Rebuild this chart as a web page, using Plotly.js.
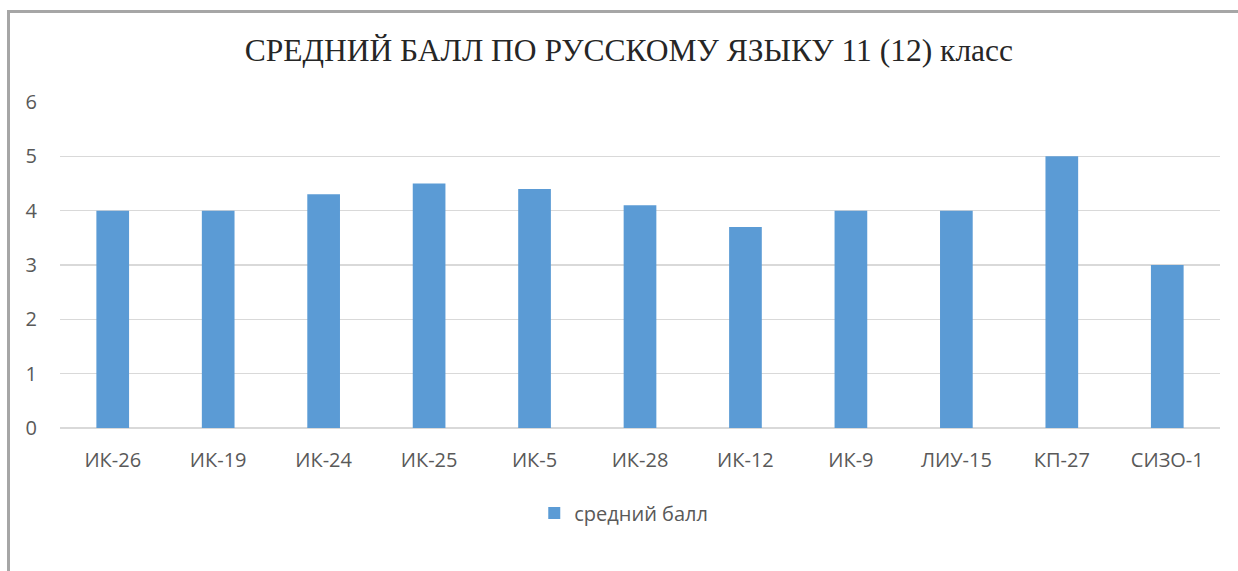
<!DOCTYPE html>
<html>
<head>
<meta charset="utf-8">
<script src="https://cdn.plot.ly/plotly-3.0.1.min.js"></script>
<style>
  body { margin: 0; background: #fff; }
  #chart { width: 1238px; height: 571px; }
  #frame { position: absolute; left: 7px; top: 10px; width: 1240px; height: 570px;
           border-left: 3px solid #a6a6a6; border-top: 3px solid #a6a6a6; pointer-events: none; }
</style>
</head>
<body>
<div id="chart"></div>
<div id="frame"></div>
<script>
// средний балл по учреждениям
const categories = ['ИК-26','ИК-19','ИК-24','ИК-25','ИК-5','ИК-28','ИК-12','ИК-9','ЛИУ-15','КП-27','СИЗО-1'];
const scores = [4, 4, 4.3, 4.5, 4.4, 4.1, 3.7, 4, 4, 5, 3];
const yTicks = [0, 1, 2, 3, 4, 5, 6];

const labelFont = {family: 'Open Sans', size: 20, color: '#595959'};

Plotly.newPlot('chart', [{
  type: 'bar', x: categories, y: scores, name: 'средний балл',
  marker: {color: '#5b9bd5'}
}], {
  width: 1238, height: 571,
  margin: {l: 60, r: 18, t: 102, b: 143},
  paper_bgcolor: '#fff', plot_bgcolor: '#fff',
  bargap: 0.69,
  title: {text: 'СРЕДНИЙ БАЛЛ ПО РУССКОМУ ЯЗЫКУ 11 (12) класс',
          font: {family: 'Liberation Serif', size: 31.5, color: '#262626'},
          x: 0.508, xanchor: 'center', yref: 'container', y: 0.912, yanchor: 'middle'},
  xaxis: {tickfont: labelFont, showgrid: false, zeroline: false, showline: false,
          ticks: '', ticklabelstandoff: 18, fixedrange: true},
  yaxis: {range: [0, 6], tickvals: yTicks, tickfont: labelFont,
          gridcolor: '#d9d9d9', gridwidth: 1.3, zeroline: true, zerolinecolor: '#d9d9d9', zerolinewidth: 2,
          showline: false, ticks: '', ticklabelstandoff: 22, fixedrange: true},
  showlegend: true,
  legend: {orientation: 'h', x: 0.486, xanchor: 'center', yref: 'container', y: 0.1016, yanchor: 'middle',
           font: labelFont, itemwidth: 30}
}, {displayModeBar: false, staticPlot: true});
</script>
</body>
</html>
